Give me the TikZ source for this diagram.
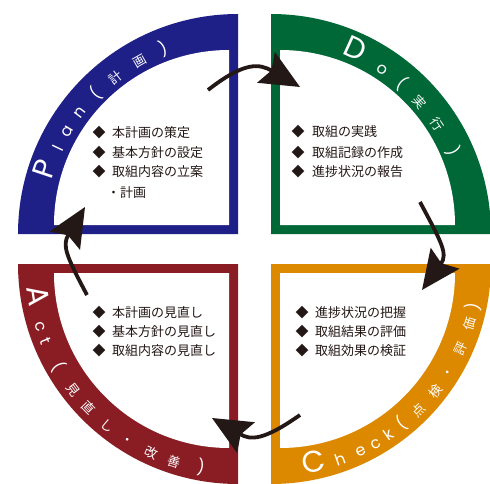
\documentclass[tikz,border=0pt]{standalone}
\usepackage{fontspec}
\newfontfamily\cjk{Noto Sans CJK JP}
\newfontfamily\pop{Poppins}
\usetikzlibrary{arrows.meta}
\definecolor{plancol}{RGB}{31,32,135}
\definecolor{docol}{RGB}{0,104,55}
\definecolor{actcol}{RGB}{138,28,36}
\definecolor{checkcol}{RGB}{221,137,0}
\definecolor{ink}{RGB}{35,24,21}
\newcommand{\bigL}{\pop\fontsize{30}{30}\selectfont}
\newcommand{\smL}{\pop\fontsize{16}{16}\selectfont}
\newcommand{\smJ}{\cjk\fontsize{13}{13}\selectfont}
\begin{document}
\begin{tikzpicture}[x=1pt,y=1pt,
  bandtxt/.style={text=white, inner sep=0pt, anchor=base},
  body/.style={font=\smJ, text=ink, inner sep=0pt, anchor=base west},
  dia/.style={font=\smJ, text=ink, inner sep=0pt, anchor=base},
  arr/.style={line width=3.8pt, draw=ink, -{Stealth[length=39pt,width=35pt,inset=6pt]}}]
\useasboundingbox (0,0) rectangle (490,483);
\coordinate (P) at (238,249);
\coordinate (D) at (271,249);
\coordinate (A) at (238,219);
\coordinate (C) at (271,219);
% quadrants
\fill[plancol] (P) -- ++(-220,0) arc[start angle=180,end angle=90,radius=220] -- cycle;
\fill[white] ([shift={(-9,9)}]P) -- ++(-175,0) arc[start angle=180,end angle=90,radius=175] -- cycle;
\fill[docol] (D) -- ++(0,220) arc[start angle=90,end angle=0,radius=220] -- cycle;
\fill[white] ([shift={(9,9)}]D) -- ++(0,175) arc[start angle=90,end angle=0,radius=175] -- cycle;
\fill[actcol] (A) -- ++(-220,0) arc[start angle=180,end angle=270,radius=220] -- cycle;
\fill[white] ([shift={(-9,-9)}]A) -- ++(-175,0) arc[start angle=180,end angle=270,radius=175] -- cycle;
\fill[checkcol] (C) -- ++(220,0) arc[start angle=0,end angle=-90,radius=220] -- cycle;
\fill[white] ([shift={(9,-9)}]C) -- ++(175,0) arc[start angle=0,end angle=-90,radius=175] -- cycle;
% band texts
\foreach \a/\t/\f [count=\i] in {161.5/P/\bigL, 154.5/l/\smL, 149/a/\smL, 142.5/n/\smL, 135.5/(/\smL, 128/計/\smJ, 119.5/画/\smJ, 112/)/\smL}
  \path (P) ++(\a:194) node[bandtxt, rotate=\a-90, font=\f] (pl\i) {\t};
\foreach \a/\t/\f [count=\i] in {65.5/D/\bigL, 56/o/\smL, 49/(/\smL, 41.5/実/\smJ, 33.5/行/\smJ, 24.5/)/\smL}
  \path (D) ++(\a:194) node[bandtxt, rotate=\a-90, font=\f] (dl\i) {\t};
\foreach \a/\t/\f [count=\i] in {-77.7/C/\bigL, -70.5/h/\smL, -64.5/e/\smL, -59.8/c/\smL, -55.3/k/\smL, -50.7/(/\smL, -44.8/点/\smJ, -37.7/検/\smJ, -31.5/・/\smJ, -24/評/\smJ, -16.7/価/\smJ, -12/)/\smL}
  \path (C) ++(\a:212.5) node[bandtxt, rotate=\a+90, font=\f] (cl\i) {\t};
\foreach \a/\t/\f [count=\i] in {189/A/\bigL, 197.7/c/\smL, 202/t/\smL, 209.9/(/\smL, 217.3/見/\smJ, 224/直/\smJ, 231/し/\smJ, 238/・/\smJ, 245.5/改/\smJ, 252.2/善/\smJ, 259.7/)/\smL}
  \path (A) ++(\a:212.5) node[bandtxt, rotate=\a+90, font=\f] (al\i) {\t};
% body texts
\node[dia] (pd1) at (99,345) {◆};
\node[dia] (pd2) at (99,326) {◆};
\node[dia] (pd3) at (99,307) {◆};
\node[body] (pt1) at (112,345) {本計画の策定};
\node[body] (pt2) at (112,326) {基本方針の設定};
\node[body] (pt3) at (112,307) {取組内容の立案};
\node[body] (pt4) at (107,286) {・計画};
\node[dia] (dd1) at (298,346) {◆};
\node[dia] (dd2) at (298,326) {◆};
\node[dia] (dd3) at (298,307) {◆};
\node[body] (dt1) at (312,346) {取組の実践};
\node[body] (dt2) at (312,326) {取組記録の作成};
\node[body] (dt3) at (312,307) {進捗状況の報告};
\node[dia] (ad1) at (99,166) {◆};
\node[dia] (ad2) at (99,147) {◆};
\node[dia] (ad3) at (99,128) {◆};
\node[body] (at1) at (112,166) {本計画の見直し};
\node[body] (at2) at (112,147) {基本方針の見直し};
\node[body] (at3) at (112,128) {取組内容の見直し};
\node[dia] (cd1) at (302,166) {◆};
\node[dia] (cd2) at (302,147) {◆};
\node[dia] (cd3) at (302,128) {◆};
\node[body] (ct1) at (315,166) {進捗状況の把握};
\node[body] (ct2) at (315,147) {取組結果の評価};
\node[body] (ct3) at (315,128) {取組効果の検証};
% arrows
\coordinate (a1s) at (208,393); \coordinate (a1e) at (300,396);
\coordinate (a2s) at (420,281); \coordinate (a2e) at (422,193);
\coordinate (a3s) at (300,68);  \coordinate (a3e) at (212,65);
\coordinate (a4s) at (87,188);  \coordinate (a4e) at (85,276);
\draw[arr] (a1s) to[out=38,in=150,looseness=1.3] (a1e);
\draw[arr] (a2s) to[out=-62,in=54,looseness=1.3] (a2e);
\draw[arr] (a3s) to[out=-145,in=-30,looseness=1.3] (a3e);
\draw[arr] (a4s) to[out=118,in=-121,looseness=1.3] (a4e);
\end{tikzpicture}
\end{document}
